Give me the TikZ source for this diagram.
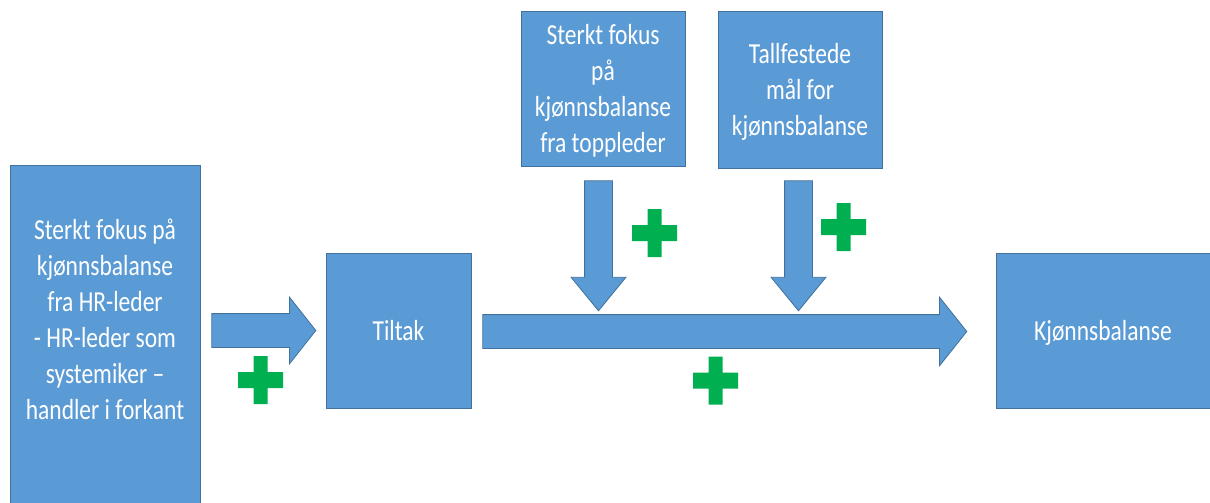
\documentclass[tikz,border=0pt]{standalone}
\usepackage{fontspec}
\setmainfont{Carlito}[FakeStretch=0.81]
\usetikzlibrary{shapes.arrows,calc}
\definecolor{boxblue}{HTML}{5B9BD5}
\definecolor{boxline}{HTML}{41719C}
\definecolor{plusgreen}{HTML}{00B050}
\begin{document}
\begin{tikzpicture}
[x=1pt,y=-1pt,
  boxdecorate/.style={shape=rectangle,draw=boxline,fill=boxblue,line width=0.8pt,text=white,align=center,%
    font=\fontsize{29}{36}\selectfont,text depth=0pt,inner sep=0pt,minimum height=155pt},
  arrowdecorate/.style={single arrow,draw=boxline,fill=boxblue,line width=0.8pt,inner sep=0pt,%
    single arrow head indent=0pt,anchor=tail},
  plussign/.pic={\fill[plusgreen] (-22.5,-8) rectangle (22.5,8) (-7,-24) rectangle (7,24);}]
\useasboundingbox (0,0) rectangle (1210,503);
% boxes
\node (hr) at (105,337.5) [boxdecorate,minimum width=190pt,minimum height=345pt,text depth=36pt]
  {Sterkt fokus på\\kjønnsbalanse\\fra HR-leder\\- HR-leder som\\systemiker –\\handler i forkant};
\node (tiltak) at (398.5,330.5) [boxdecorate,minimum width=145pt] {Tiltak};
\node (fokus) at (603,88.5) [boxdecorate,minimum width=164pt]
  {Sterkt fokus\\på\\kjønnsbalanse\\fra toppleder};
\node (maal) at (800,89.5) [boxdecorate,minimum width=164pt,minimum height=157pt]
  {Tallfestede\\mål for\\kjønnsbalanse};
\node (balanse) at (1103,330.5) [boxdecorate,minimum width=214pt] {Kjønnsbalanse};
% block arrows
\node (hrpil) at ($(hr.east |- tiltak.west)+(11,0)$) [arrowdecorate,inner ysep=16.5pt,%
  single arrow head extend=16.5pt,single arrow tip angle=103.5,minimum height=104pt] {};
\node (tiltakpil) at ($(tiltak.east)+(11,1)$) [arrowdecorate,inner ysep=16.5pt,%
  single arrow head extend=17.5pt,single arrow tip angle=103,minimum height=484pt] {};
\node (fokuspil) at ($(fokus.south)+(-4.5,14)$) [arrowdecorate,rotate=-90,inner ysep=13.5pt,%
  single arrow head extend=13.5pt,single arrow tip angle=78.6,minimum height=130pt] {};
\node (maalpil) at ($(maal.south)+(-1.5,12)$) [arrowdecorate,rotate=-90,inner ysep=13.5pt,%
  single arrow head extend=13.5pt,single arrow tip angle=78.6,minimum height=130pt] {};
% plus signs
\pic (hrpluss) at (260.5,380) {plussign};
\pic (fokuspluss) at (654.5,233) {plussign};
\pic (maalpluss) at (843.5,227) {plussign};
\pic (tiltakpluss) at (715.5,380.5) {plussign};
\end{tikzpicture}
\end{document}
